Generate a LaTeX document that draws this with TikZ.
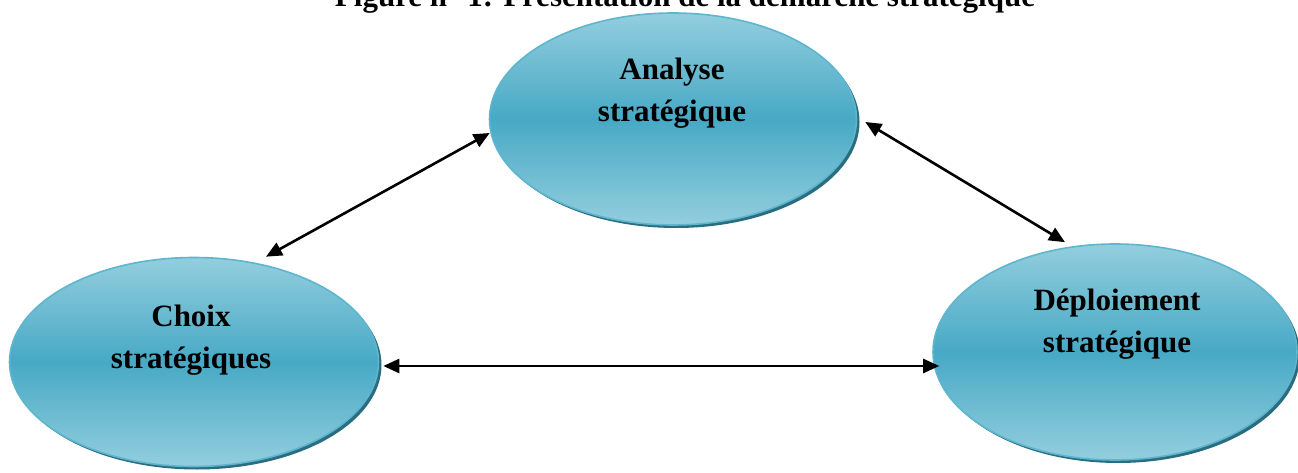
\documentclass[tikz,border=0pt]{standalone}
\usepackage{fontspec}
\setmainfont{Liberation Serif}
\usetikzlibrary{shadows,arrows.meta,shapes.geometric}
\definecolor{bubbleLight}{HTML}{93CEDE}
\definecolor{bubbleMid}{HTML}{47A9C5}
\definecolor{bubbleEdge}{HTML}{5DB5CE}
\definecolor{bubbleShadow}{HTML}{2B6D80}
\begin{document}
\begin{tikzpicture}[x=1pt,y=-1pt,
  bubble/.style={ellipse,draw=bubbleEdge,line width=1.6pt,
    top color=bubbleLight,bottom color=bubbleLight,middle color=bubbleMid,
    drop shadow={shadow xshift=3pt,shadow yshift=-3pt,fill=bubbleShadow,opacity=1},
    inner sep=0pt},
  label/.style={font=\fontsize{31}{42}\selectfont\bfseries,align=center,inner sep=0pt},
  link/.style={line width=2.6pt,{Triangle[length=16pt,width=14pt]}-{Triangle[length=16pt,width=14pt]}}]
\useasboundingbox (0,0) rectangle (1298,473);

% title, partly above the top edge
\node[font=\fontsize{31}{38}\selectfont\bfseries,anchor=base,inner sep=0pt] (title) at (685,7)
  {Figure n° 1: Présentation de la démarche stratégique};

% the three stages
\node[bubble,minimum width=367pt,minimum height=212pt] (ana) at (673,119) {};
\node[bubble,minimum width=369pt,minimum height=209pt] (choix) at (194,362) {};
\node[bubble,minimum width=364pt,minimum height=216pt] (depl) at (1115,352) {};

\node[label] (anaT) at (672,93) {Analyse\\stratégique};
\node[label] (choixT) at (191,340) {Choix\\stratégiques};
\node[label] (deplT) at (1117,324) {Déploiement\\stratégique};

% arrow end points, just off each ellipse
\coordinate (anaL) at ([shift={(1,14)}]ana.west);
\coordinate (anaR) at ([shift={(8,3)}]ana.east);
\coordinate (choixTop) at ([shift={(72,0)}]choix.north);
\coordinate (choixR) at ([shift={(4,4)}]choix.east);
\coordinate (deplTop) at ([shift={(-50,-1)}]depl.north);
\coordinate (deplL) at ([shift={(7,14)}]depl.west);

% links between the stages
\draw[link] (anaL) -- (choixTop);
\draw[link] (anaR) -- (deplTop);
\draw[link] (choixR) -- (deplL);
\end{tikzpicture}
\end{document}
